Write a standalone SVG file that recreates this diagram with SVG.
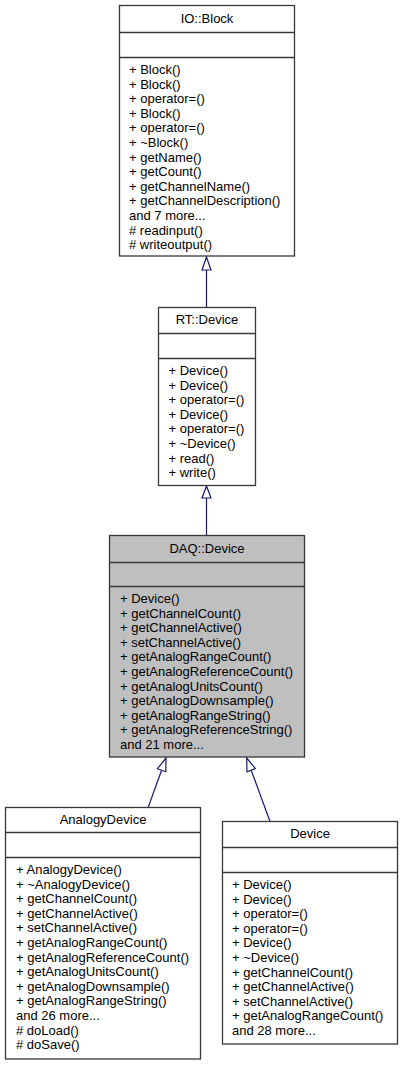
<svg xmlns="http://www.w3.org/2000/svg" width="403" height="1065" viewBox="0 0 403 1065">
<style>
.box{fill:#ffffff;stroke:#383838;stroke-width:1.3}
.sel{fill:#bfbfbf;stroke:#383838;stroke-width:1.3}
.sep{stroke:#383838;stroke-width:1.3}
text{font-family:"Liberation Sans",Arial,sans-serif;font-size:13px;fill:#000000}
.t{text-anchor:middle}
.edge{stroke:#191970;stroke-width:1.2;fill:none}
.head{stroke:#191970;stroke-width:1.2;fill:#ffffff}
</style>
<rect width="403" height="1065" fill="#ffffff"/>
<g id="connectors">
<line class="edge" x1="206.5" y1="270" x2="206.5" y2="307"/>
<polygon class="head" points="206.5,257 202,270 211,270"/>
<line class="edge" x1="206.5" y1="498" x2="206.5" y2="535"/>
<polygon class="head" points="206.5,486 202,498 211,498"/>
<line class="edge" x1="161.6" y1="770.2" x2="148.3" y2="807"/>
<polygon class="head" points="166,758 157.4,768.7 165.8,771.7"/>
<line class="edge" x1="251.2" y1="770.2" x2="270" y2="821.5"/>
<polygon class="head" points="246.7,758 255.4,768.6 247,771.8"/>
</g>
<g id="node-io-block">
<rect class="box" x="119.5" y="5.5" width="175" height="250.5"/>
<line class="sep" x1="119.5" y1="32.5" x2="294.5" y2="32.5"/>
<line class="sep" x1="119.5" y1="57.5" x2="294.5" y2="57.5"/>
<text class="t" x="207" y="23">IO::Block</text>
<text x="129" y="74">+ Block()</text>
<text x="129" y="88.6">+ Block()</text>
<text x="129" y="103.2">+ operator=()</text>
<text x="129" y="117.8">+ Block()</text>
<text x="129" y="132.4">+ operator=()</text>
<text x="129" y="147">+ ~Block()</text>
<text x="129" y="161.6">+ getName()</text>
<text x="129" y="176.2">+ getCount()</text>
<text x="129" y="190.8">+ getChannelName()</text>
<text x="129" y="205.4">+ getChannelDescription()</text>
<text x="129" y="220">and 7 more...</text>
<text x="129" y="234.6"># readinput()</text>
<text x="129" y="249.2"># writeoutput()</text>
</g>
<g id="node-rt-device">
<rect class="box" x="158.5" y="307.5" width="97" height="178"/>
<line class="sep" x1="158.5" y1="333.5" x2="255.5" y2="333.5"/>
<line class="sep" x1="158.5" y1="358.5" x2="255.5" y2="358.5"/>
<text class="t" x="207" y="324">RT::Device</text>
<text x="168.5" y="375">+ Device()</text>
<text x="168.5" y="389.6">+ Device()</text>
<text x="168.5" y="404.2">+ operator=()</text>
<text x="168.5" y="418.8">+ Device()</text>
<text x="168.5" y="433.4">+ operator=()</text>
<text x="168.5" y="448">+ ~Device()</text>
<text x="168.5" y="462.6">+ read()</text>
<text x="168.5" y="477.2">+ write()</text>
</g>
<g id="node-daq-device">
<rect class="sel" x="109.5" y="535.5" width="195" height="221.5"/>
<line class="sep" x1="109.5" y1="562.5" x2="304.5" y2="562.5"/>
<line class="sep" x1="109.5" y1="586.5" x2="304.5" y2="586.5"/>
<text class="t" x="207" y="552.5">DAQ::Device</text>
<text x="120" y="603">+ Device()</text>
<text x="120" y="617.6">+ getChannelCount()</text>
<text x="120" y="632.2">+ getChannelActive()</text>
<text x="120" y="646.8">+ setChannelActive()</text>
<text x="120" y="661.4">+ getAnalogRangeCount()</text>
<text x="120" y="676">+ getAnalogReferenceCount()</text>
<text x="120" y="690.6">+ getAnalogUnitsCount()</text>
<text x="120" y="705.2">+ getAnalogDownsample()</text>
<text x="120" y="719.8">+ getAnalogRangeString()</text>
<text x="120" y="734.4">+ getAnalogReferenceString()</text>
<text x="120" y="749">and 21 more...</text>
</g>
<g id="node-analogy-device">
<rect class="box" x="5.5" y="807.5" width="195" height="251.5"/>
<line class="sep" x1="5.5" y1="832.5" x2="200.5" y2="832.5"/>
<line class="sep" x1="5.5" y1="857.5" x2="200.5" y2="857.5"/>
<text class="t" x="103" y="823.5">AnalogyDevice</text>
<text x="16" y="874">+ AnalogyDevice()</text>
<text x="16" y="888.6">+ ~AnalogyDevice()</text>
<text x="16" y="903.2">+ getChannelCount()</text>
<text x="16" y="917.8">+ getChannelActive()</text>
<text x="16" y="932.4">+ setChannelActive()</text>
<text x="16" y="947">+ getAnalogRangeCount()</text>
<text x="16" y="961.6">+ getAnalogReferenceCount()</text>
<text x="16" y="976.2">+ getAnalogUnitsCount()</text>
<text x="16" y="990.8">+ getAnalogDownsample()</text>
<text x="16" y="1005.4">+ getAnalogRangeString()</text>
<text x="16" y="1020">and 26 more...</text>
<text x="16" y="1034.6"># doLoad()</text>
<text x="16" y="1049.2"># doSave()</text>
</g>
<g id="node-device">
<rect class="box" x="222.5" y="821.5" width="175" height="222.5"/>
<line class="sep" x1="222.5" y1="847.5" x2="397.5" y2="847.5"/>
<line class="sep" x1="222.5" y1="872.5" x2="397.5" y2="872.5"/>
<text class="t" x="310" y="838">Device</text>
<text x="232" y="889">+ Device()</text>
<text x="232" y="903.6">+ Device()</text>
<text x="232" y="918.2">+ operator=()</text>
<text x="232" y="932.8">+ operator=()</text>
<text x="232" y="947.4">+ Device()</text>
<text x="232" y="962">+ ~Device()</text>
<text x="232" y="976.6">+ getChannelCount()</text>
<text x="232" y="991.2">+ getChannelActive()</text>
<text x="232" y="1005.8">+ setChannelActive()</text>
<text x="232" y="1020.4">+ getAnalogRangeCount()</text>
<text x="232" y="1035">and 28 more...</text>
</g>
</svg>
